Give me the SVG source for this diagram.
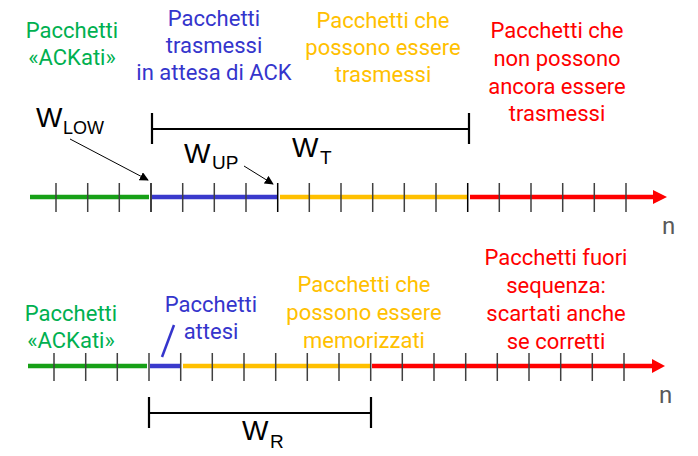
<svg xmlns="http://www.w3.org/2000/svg" width="698" height="456" viewBox="0 0 698 456">
<defs>
<style>
.t{font-family:Roboto,"Noto Sans",sans-serif;font-size:22px;text-anchor:middle}
.g{fill:#00b050}.b{fill:#3535cc}.y{fill:#ffc000}.r{fill:#ff0000}
.w{font-family:"Liberation Sans",Arial,sans-serif;fill:#000}
.seg{stroke-width:4.5;fill:none}
.tk{stroke:#404040;stroke-width:1.5}
.tkb{stroke:#000;stroke-width:1.5}
.br{stroke:#000;stroke-width:2.2;fill:none}
.ar{stroke:#000;stroke-width:1;fill:none;marker-end:url(#ah)}
.n{font-family:Roboto,"Noto Sans",sans-serif;font-size:24px;fill:#595959}
</style>
<marker id="ah" viewBox="0 0 10 10" refX="9" refY="5" markerWidth="9" markerHeight="9" markerUnits="userSpaceOnUse" orient="auto">
<path d="M0,0 L10,5 L0,10 z" fill="#000"/>
</marker>
</defs>
<rect width="698" height="456" fill="#fff"/>

<g id="axis-top">
<line class="seg" x1="30" y1="197" x2="149" y2="197" stroke="#17a017"/>
<line class="seg" x1="152" y1="197" x2="277" y2="197" stroke="#3a3acc"/>
<line class="seg" x1="280" y1="197" x2="467" y2="197" stroke="#ffc000"/>
<line class="seg" x1="470" y1="197" x2="655" y2="197" stroke="#ff0000"/>
<polygon points="653,190 667,197 653,204" fill="#ff0000"/>
<g class="tk">
<line x1="56" y1="183" x2="56" y2="212"/>
<line x1="87.7" y1="183" x2="87.7" y2="212"/>
<line x1="119.3" y1="183" x2="119.3" y2="212"/>
<line x1="182.7" y1="183" x2="182.7" y2="212"/>
<line x1="214.3" y1="183" x2="214.3" y2="212"/>
<line x1="246" y1="183" x2="246" y2="212"/>
<line x1="309.3" y1="183" x2="309.3" y2="212"/>
<line x1="341" y1="183" x2="341" y2="212"/>
<line x1="372.7" y1="183" x2="372.7" y2="212"/>
<line x1="404.3" y1="183" x2="404.3" y2="212"/>
<line x1="436" y1="183" x2="436" y2="212"/>
<line x1="499.3" y1="183" x2="499.3" y2="212"/>
<line x1="531" y1="183" x2="531" y2="212"/>
<line x1="562.7" y1="183" x2="562.7" y2="212"/>
<line x1="594.3" y1="183" x2="594.3" y2="212"/>
<line x1="626" y1="183" x2="626" y2="212"/>
</g>
<g class="tkb">
<line x1="151" y1="183" x2="151" y2="212"/>
<line x1="277.7" y1="183" x2="277.7" y2="212"/>
<line x1="467.7" y1="183" x2="467.7" y2="212"/>
</g>
<text class="n" x="662" y="234">n</text>
</g>

<g id="axis-bottom">
<line class="seg" x1="28" y1="366" x2="147" y2="366" stroke="#17a017"/>
<line class="seg" x1="150" y1="366" x2="180" y2="366" stroke="#3a3acc"/>
<line class="seg" x1="183" y1="366" x2="370" y2="366" stroke="#ffc000"/>
<line class="seg" x1="372" y1="366" x2="654" y2="366" stroke="#ff0000"/>
<polygon points="652,359 665,366 652,373" fill="#ff0000"/>
<g class="tk">
<line x1="54" y1="353" x2="54" y2="381"/>
<line x1="85.7" y1="353" x2="85.7" y2="381"/>
<line x1="117.3" y1="353" x2="117.3" y2="381"/>
<line x1="149" y1="353" x2="149" y2="381"/>
<line x1="180.7" y1="353" x2="180.7" y2="381"/>
<line x1="212.3" y1="353" x2="212.3" y2="381"/>
<line x1="244" y1="353" x2="244" y2="381"/>
<line x1="275.7" y1="353" x2="275.7" y2="381"/>
<line x1="307.3" y1="353" x2="307.3" y2="381"/>
<line x1="339" y1="353" x2="339" y2="381"/>
<line x1="370.7" y1="353" x2="370.7" y2="381"/>
<line x1="402.3" y1="353" x2="402.3" y2="381"/>
<line x1="434" y1="353" x2="434" y2="381"/>
<line x1="465.7" y1="353" x2="465.7" y2="381"/>
<line x1="497.3" y1="353" x2="497.3" y2="381"/>
<line x1="529" y1="353" x2="529" y2="381"/>
<line x1="560.7" y1="353" x2="560.7" y2="381"/>
<line x1="592.3" y1="353" x2="592.3" y2="381"/>
<line x1="624" y1="353" x2="624" y2="381"/>
</g>
<text class="n" x="659" y="403">n</text>
</g>

<g id="window-T">
<path class="br" d="M152 113 V144 M152 129 H469 M469 113 V144"/>
<text class="w" x="292" y="157" font-size="28">W</text>
<text class="w" x="320" y="164" font-size="19">T</text>
</g>
<g id="window-R">
<path class="br" d="M149 397 V428 M149 413 H371 M371 397 V428"/>
<text class="w" x="242" y="440" font-size="28">W</text>
<text class="w" x="270" y="448" font-size="19">R</text>
</g>
<g id="label-WLOW">
<text class="w" x="36" y="127" font-size="28">W</text>
<text class="w" x="63" y="134" font-size="19" textLength="41" lengthAdjust="spacingAndGlyphs">LOW</text>
</g>
<g id="label-WUP">
<text class="w" x="184" y="163" font-size="28">W</text>
<text class="w" x="212" y="169" font-size="19">UP</text>
</g>

<g id="connectors">
<line class="ar" x1="70" y1="139" x2="148" y2="180"/>
<line class="ar" x1="244" y1="166" x2="273" y2="184"/>
<line x1="162" y1="357" x2="174" y2="325" stroke="#3535cc" stroke-width="2.5"/>
</g>

<g id="top-acked"><text class="t g" x="72" y="38">Pacchetti</text><text class="t g" x="72" y="65">«ACKati»</text></g>
<g id="top-sent"><text class="t b" x="214" y="26">Pacchetti</text><text class="t b" x="214" y="53">trasmessi</text><text class="t b" x="214" y="80">in attesa di ACK</text></g>
<g id="top-sendable"><text class="t y" x="383" y="28">Pacchetti che</text><text class="t y" x="383" y="55">possono essere</text><text class="t y" x="383" y="82">trasmessi</text></g>
<g id="top-blocked"><text class="t r" x="557" y="38">Pacchetti che</text><text class="t r" x="557" y="66">non possono</text><text class="t r" x="557" y="94">ancora essere</text><text class="t r" x="557" y="121">trasmessi</text></g>

<g id="bot-acked"><text class="t g" x="71" y="321">Pacchetti</text><text class="t g" x="71" y="348">«ACKati»</text></g>
<g id="bot-expected"><text class="t b" x="211" y="312">Pacchetti</text><text class="t b" x="211" y="339">attesi</text></g>
<g id="bot-storable"><text class="t y" x="364" y="292">Pacchetti che</text><text class="t y" x="364" y="320">possono essere</text><text class="t y" x="364" y="348">memorizzati</text></g>
<g id="bot-discarded"><text class="t r" x="556" y="265">Pacchetti fuori</text><text class="t r" x="556" y="293">sequenza:</text><text class="t r" x="556" y="321">scartati anche</text><text class="t r" x="556" y="349">se corretti</text></g>
</svg>
